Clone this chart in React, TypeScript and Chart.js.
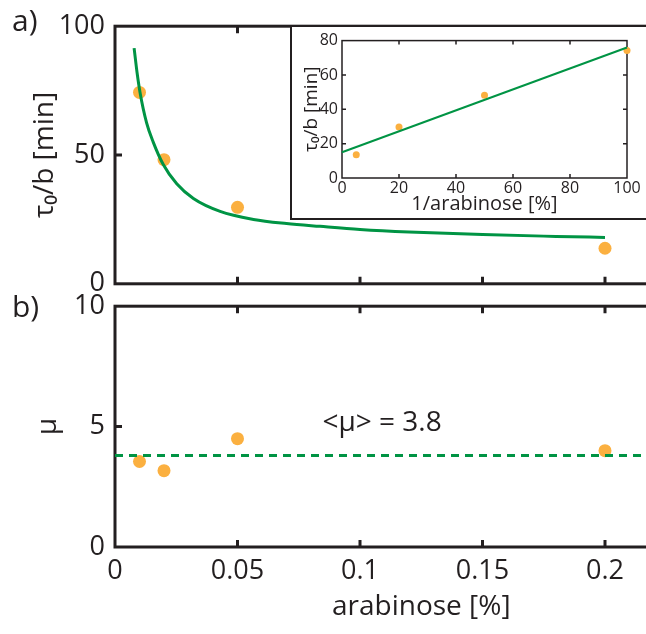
import React, { useEffect, useRef } from "react";
import { Chart, registerables } from "chart.js";

Chart.register(...registerables);

// ---------- data ----------
const arabinose = [0.01, 0.02, 0.05, 0.2];
const tauB = [74.3, 48.2, 29.7, 13.8];
const mu = [3.55, 3.17, 4.5, 4.0];
const muMean = 3.8;
const muLineX = [0, 0.25];

// fitted curve of panel a
const fitX = [0.0078, 0.009, 0.0102, 0.0129, 0.0156, 0.0197, 0.0252, 0.032, 0.0429, 0.0565, 0.07, 0.0837, 0.1, 0.12, 0.15, 0.18, 0.2];
const fitY = [91.5, 82, 74.4, 62.5, 55, 46.3, 38.8, 33.1, 28.1, 25, 23.4, 22.3, 21.1, 20.1, 19.1, 18.4, 18];

// inset
const invArabinose = [100, 50, 20, 5];
const tauBInset = [74.3, 48.2, 29.7, 13.6];
const insetFitX = [0, 100];
const insetFitY = [15, 76];

// ticks
const mainXTicks = { min: 0, max: 0.25, step: 0.05 };
const aYTicks = { min: 0, max: 100, step: 50 };
const bYTicks = { min: 0, max: 10, step: 5 };
const insetXTicks = { min: 0, max: 100, step: 20 };
const insetYTicks = { min: 0, max: 80, step: 20 };

// ---------- styles ----------
const FONT = "'Open Sans', 'Noto Sans', 'DejaVu Sans', sans-serif";
const AXIS = "#231F20";
const ORANGE = "#FBB040";
const GREEN = "#009444";

const pts = (xs: number[], ys: number[]) => xs.map((x, i) => ({ x, y: ys[i] }));
const fmt = (v: any) => String(Number(Number(v).toFixed(4)));

function framePlugin(id: string, lw: number, tickLen: number) {
  return {
    id,
    beforeDatasetsDraw(chart: any) {
      const { ctx, chartArea: a, scales } = chart;
      const x = scales.x;
      const y = scales.y;
      ctx.save();
      ctx.strokeStyle = AXIS;
      ctx.lineWidth = lw;
      ctx.beginPath();
      for (const t of x.ticks) {
        const px = x.getPixelForValue(t.value);
        if (px <= a.left + 2 || px >= a.right - 2) continue;
        ctx.moveTo(px, a.bottom);
        ctx.lineTo(px, a.bottom - tickLen);
        ctx.moveTo(px, a.top);
        ctx.lineTo(px, a.top + tickLen);
      }
      for (const t of y.ticks) {
        const py = y.getPixelForValue(t.value);
        if (py <= a.top + 2 || py >= a.bottom - 2) continue;
        ctx.moveTo(a.left, py);
        ctx.lineTo(a.left + tickLen, py);
        ctx.moveTo(a.right, py);
        ctx.lineTo(a.right - tickLen, py);
      }
      ctx.stroke();
      ctx.strokeRect(a.left, a.top, a.right - a.left, a.bottom - a.top);
      ctx.restore();
    },
  };
}

function labelPlugin(id: string, text: string, x: number, y: number, size: number) {
  return {
    id,
    afterDraw(chart: any) {
      const { ctx } = chart;
      ctx.save();
      ctx.fillStyle = AXIS;
      ctx.font = `${size}px ${FONT}`;
      ctx.textAlign = "left";
      ctx.textBaseline = "alphabetic";
      ctx.fillText(text, x, y);
      ctx.restore();
    },
  };
}

const meanTextPlugin = {
  id: "meanText",
  afterDatasetsDraw(chart: any) {
    const { ctx, scales } = chart;
    const px = scales.x.getPixelForValue(0.109);
    const py = scales.y.getPixelForValue(5.15);
    ctx.save();
    ctx.fillStyle = AXIS;
    ctx.font = `28px ${FONT}`;
    ctx.textAlign = "center";
    ctx.textBaseline = "middle";
    ctx.fillText(`<μ> = ${muMean}`, px, py);
    ctx.restore();
  },
};

function baseScale(t: { min: number; max: number; step: number }, size: number, showTicks: boolean, pad: number, fit: (s: any) => void) {
  return {
    type: "linear",
    min: t.min,
    max: t.max,
    grid: { display: false, drawTicks: false },
    border: { display: false },
    ticks: {
      stepSize: t.step,
      autoSkip: false,
      maxRotation: 0,
      display: showTicks,
      color: AXIS,
      padding: pad,
      font: { family: FONT, size },
      callback: (v: any) => fmt(v),
    },
    afterFit: fit,
  };
}

function useChart(ref: React.RefObject<HTMLCanvasElement>, make: () => any) {
  useEffect(() => {
    if (!ref.current) return;
    const chart = new Chart(ref.current, make());
    return () => chart.destroy();
  }, []);
}

const common = {
  animation: false,
  responsive: false,
  events: [],
  plugins: { legend: { display: false }, tooltip: { enabled: false } },
};

export default function App() {
  const aRef = useRef<HTMLCanvasElement>(null);
  const bRef = useRef<HTMLCanvasElement>(null);
  const iRef = useRef<HTMLCanvasElement>(null);

  // panel a: canvas 780x310 at (0,0); chart area 115..727.5 x 20..287
  useChart(aRef, () => ({
    type: "scatter",
    data: {
      datasets: [
        {
          data: pts(fitX, fitY),
          showLine: true,
          pointRadius: 0,
          borderColor: GREEN,
          borderWidth: 3,
          cubicInterpolationMode: "monotone",
        },
        {
          data: pts(arabinose, tauB),
          pointRadius: 6.5,
          backgroundColor: ORANGE,
          borderWidth: 0,
        },
      ],
    },
    options: {
      ...common,
      layout: { padding: { top: 20, left: 0, right: 52.5, bottom: 0 } },
      scales: {
        x: baseScale(mainXTicks, 27, false, 10, (s: any) => { s.height = 23; }),
        y: {
          ...baseScale(aYTicks, 27, true, 10, (s: any) => { s.width = 115; }),
          title: { display: true, text: "τ₀/b [min]", color: AXIS, font: { family: FONT, size: 28 }, padding: { top: 28, bottom: 0 } },
        },
      },
    },
    plugins: [framePlugin("frameA", 3, 7), labelPlugin("labA", "a)", 12, 31, 30)],
  }));

  // panel b: canvas 780x354 at (0,280); chart area 115..727.5 x 302..547
  useChart(bRef, () => ({
    type: "scatter",
    data: {
      datasets: [
        {
          data: pts(muLineX, [muMean, muMean]),
          showLine: true,
          pointRadius: 0,
          borderColor: GREEN,
          borderWidth: 3,
          borderDash: [8, 6],
        },
        {
          data: pts(arabinose, mu),
          pointRadius: 6.5,
          backgroundColor: ORANGE,
          borderWidth: 0,
        },
      ],
    },
    options: {
      ...common,
      layout: { padding: { top: 22, left: 0, right: 52.5, bottom: 0 } },
      scales: {
        x: {
          ...baseScale(mainXTicks, 27, true, 8, (s: any) => { s.height = 87; }),
          title: { display: true, text: "arabinose [%]", color: AXIS, font: { family: FONT, size: 28 }, padding: { top: 0, bottom: 10 } },
        },
        y: {
          ...baseScale(bYTicks, 27, true, 10, (s: any) => { s.width = 115; }),
          title: { display: true, text: "μ", color: AXIS, font: { family: FONT, size: 28 }, padding: { top: 31, bottom: 0 } },
        },
      },
    },
    plugins: [framePlugin("frameB", 3, 7), labelPlugin("labB", "b)", 12, 37, 30), meanTextPlugin],
  }));

  // inset: canvas 354x191 at (292,27); chart area 342..627 x 38..178
  useChart(iRef, () => ({
    type: "scatter",
    data: {
      datasets: [
        {
          data: pts(insetFitX, insetFitY),
          showLine: true,
          pointRadius: 0,
          borderColor: GREEN,
          borderWidth: 2,
        },
        {
          data: pts(invArabinose, tauBInset),
          pointRadius: 3.5,
          backgroundColor: ORANGE,
          borderWidth: 0,
        },
      ],
    },
    options: {
      ...common,
      clip: false,
      layout: { padding: { top: 11, left: 0, right: 19, bottom: 0 } },
      scales: {
        x: {
          ...baseScale(insetXTicks, 16, true, 1, (s: any) => { s.height = 40; }),
          title: { display: true, text: "1/arabinose [%]", color: AXIS, font: { family: FONT, size: 20 }, padding: { top: 0, bottom: 2 } },
        },
        y: {
          ...baseScale(insetYTicks, 16, true, 4, (s: any) => { s.width = 50; }),
          title: { display: true, text: "τ₀/b [min]", color: AXIS, font: { family: FONT, size: 19 }, padding: { top: 8, bottom: 0 } },
        },
      },
    },
    plugins: [framePlugin("frameI", 1.5, 4)],
  }));

  return (
    <div
      style={{
        position: "fixed",
        left: 0,
        top: 0,
        width: 646,
        height: 634,
        overflow: "hidden",
        background: "#ffffff",
      }}
    >
      <canvas ref={aRef} width={780} height={310} style={{ position: "absolute", left: 0, top: 0, width: 780, height: 310 }} />
      <canvas ref={bRef} width={780} height={354} style={{ position: "absolute", left: 0, top: 280, width: 780, height: 354 }} />
      <div
        style={{
          position: "absolute",
          left: 290,
          top: 25,
          width: 400,
          height: 195,
          boxSizing: "border-box",
          border: `2px solid ${AXIS}`,
          background: "#ffffff",
        }}
      />
      <canvas ref={iRef} width={354} height={191} style={{ position: "absolute", left: 292, top: 27, width: 354, height: 191 }} />
    </div>
  );
}
